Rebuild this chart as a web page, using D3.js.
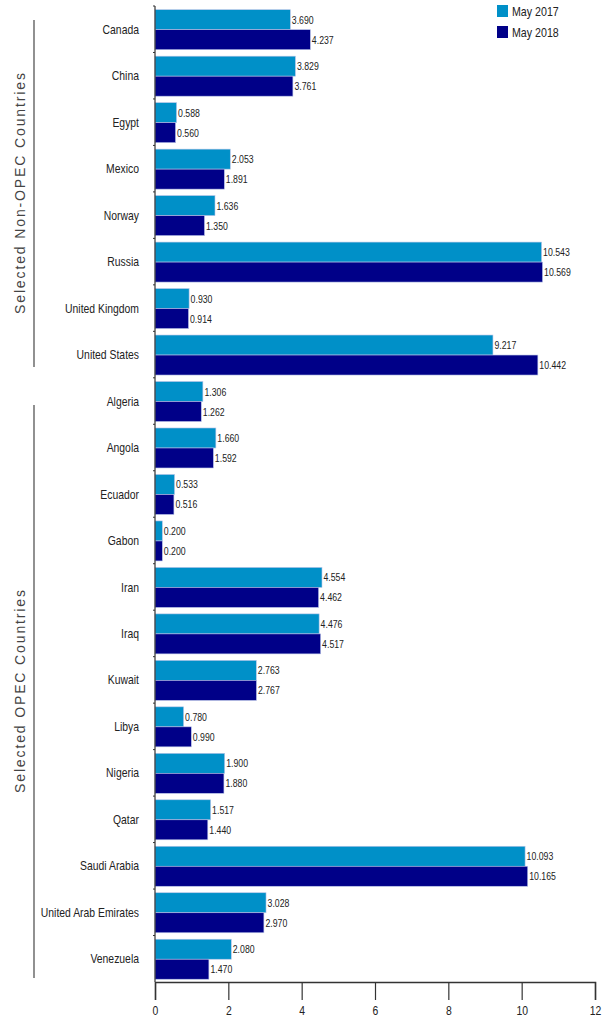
<!DOCTYPE html>
<html><head><meta charset="utf-8">
<script src="https://cdn.jsdelivr.net/npm/d3@7"></script>
<style>
body{margin:0;background:#fff;}
text{font-family:"Liberation Sans Narrow","Arial Narrow","Liberation Sans",Arial,sans-serif;}
</style></head>
<body><svg id="c" width="607" height="1027"></svg>
<script>
const categories = ["Canada","China","Egypt","Mexico","Norway","Russia","United Kingdom","United States",
  "Algeria","Angola","Ecuador","Gabon","Iran","Iraq","Kuwait","Libya","Nigeria","Qatar","Saudi Arabia","United Arab Emirates","Venezuela"];
const may2017 = [3.690,3.829,0.588,2.053,1.636,10.543,0.930,9.217,
  1.306,1.660,0.533,0.200,4.554,4.476,2.763,0.780,1.900,1.517,10.093,3.028,2.080];
const may2018 = [4.237,3.761,0.560,1.891,1.350,10.569,0.914,10.442,
  1.262,1.592,0.516,0.200,4.462,4.517,2.767,0.990,1.880,1.440,10.165,2.970,1.470];
const seriesNames = ["May 2017","May 2018"];
const groups = [
  {name:"Selected Non-OPEC Countries", first:"Canada", last:"United States"},
  {name:"Selected OPEC Countries", first:"Algeria", last:"Venezuela"}
];
const xTicks = [0,2,4,6,8,10,12];
const colors = ["#0090c8","#000088"];

const svg = d3.select("#c");
const x = d3.scaleLinear().domain([0,12]).range([155,595]);
const y = d3.scaleBand().domain(categories).range([6,982]);
const sub = d3.scaleBand().domain([0,1]).range([3.7, 3.7+40]);

const data = categories.map((c,i)=>({c, v:[may2017[i], may2018[i]]}));

function narrowText(parent, tx, ty, sx, size, anchor, str){
  return parent.append("text")
    .attr("transform",`translate(${tx},${ty}) scale(${sx},1)`)
    .attr("dy","0.35em").attr("font-size",size).attr("text-anchor",anchor)
    .attr("fill","#222").text(str);
}

// bars
const g = svg.append("g");
data.forEach(d=>{
  d.v.forEach((v,k)=>{
    g.append("rect")
      .attr("x", x(0)).attr("y", y(d.c)+sub(k))
      .attr("width", x(v)-x(0)).attr("height", sub.bandwidth())
      .attr("fill", colors[k]).attr("stroke","#b8c4e8").attr("stroke-width",0.6);
    narrowText(g, x(v)+1.5, y(d.c)+sub(k)+sub.bandwidth()/2, 0.76, 11.5, "start", v.toFixed(3));
  });
  narrowText(g, 139, y(d.c)+y.bandwidth()/2, 0.8, 13, "end", d.c);
});

// y axis line with small ticks at band edges
svg.append("line").attr("x1",x(0)).attr("x2",x(0)).attr("y1",6).attr("y2",982)
  .attr("stroke","#333").attr("stroke-width",1.2);
categories.forEach(c=>{
  svg.append("line").attr("x1",x(0)-2).attr("x2",x(0)).attr("y1",y(c)).attr("y2",y(c))
    .attr("stroke","#333");
});

// x axis
const xAxis = svg.append("g").attr("transform","translate(0,982)")
  .call(d3.axisBottom(x).tickValues(xTicks).tickSize(18).tickPadding(6).tickFormat(d3.format("d")));
xAxis.select(".domain").attr("stroke","#333").attr("stroke-width",1.5);
xAxis.selectAll(".tick line").attr("stroke","#333").attr("stroke-width",1.2);
xAxis.selectAll(".tick text").attr("font-size",13).attr("fill","#222")
  .attr("font-family","'Liberation Sans',Arial,sans-serif")
  .attr("transform","scale(0.8,1)")
  .attr("x",0);

// group brackets
const groupLines = [[20,367],[405,978]];
const labels = [];
groups.forEach((gr,i)=>{
  const y1 = groupLines[i][0], y2 = groupLines[i][1];
  svg.append("line").attr("x1",34).attr("x2",34).attr("y1",y1).attr("y2",y2)
    .attr("stroke","#555").attr("stroke-width",1.3);
  const cy = (y1+y2)/2;
  labels.push(svg.append("text").attr("transform",`translate(25,${cy}) rotate(-90)`)
    .attr("text-anchor","middle").attr("font-size",14).attr("fill","#444")
    .attr("font-family","'Liberation Sans',Arial,sans-serif")
    .text(gr.name));
});
const natNon = labels[0].node().getComputedTextLength();
const factor = 241 / natNon;
labels.forEach(l=>{
  const n = l.node().getComputedTextLength();
  l.attr("textLength", n*factor).attr("lengthAdjust","spacing");
});

// legend
seriesNames.forEach((s,k)=>{
  svg.append("rect").attr("x",497).attr("y",5+k*21).attr("width",11).attr("height",12).attr("fill",colors[k]);
  narrowText(svg, 512, 11+k*21, 0.82, 13, "start", s);
});
</script></body></html>
